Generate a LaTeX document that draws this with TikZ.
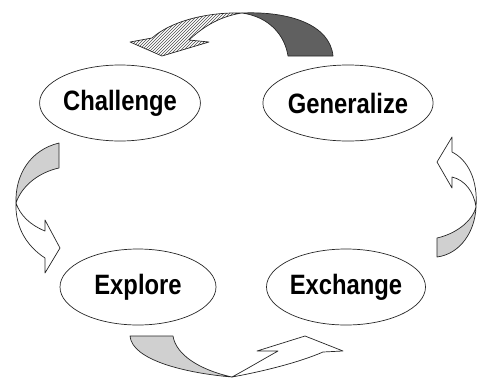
\documentclass[tikz,border=0pt]{standalone}
\usepackage{fontspec}
\setmainfont{Liberation Sans}
\newfontfamily\stagefont[FakeStretch=0.85]{Liberation Sans}
\usetikzlibrary{shapes.geometric,patterns}

\definecolor{bandlight}{HTML}{D0D0D0}
\definecolor{banddark}{HTML}{606060}

\begin{document}
\begin{tikzpicture}[
  x=1pt, y=-1pt,
  stage/.style={draw=black!85, ellipse, line width=0.7pt, minimum width=156pt, minimum height=76pt,
    inner sep=0pt, font=\stagefont\bfseries\fontsize{28}{30}\selectfont},
  band/.style={draw=black!85, line width=0.7pt, line join=round},
  front/.style={band, fill=white},
  back/.style={band, fill=bandlight}
]
\useasboundingbox (0,0) rectangle (478,378);

% the four stages
\node[stage] (challenge) at (120,103) {Challenge};
\node[stage] (generalize) at (348,103) {Generalize};
\node[stage] (explore) at (138,287) {Explore};
\node[stage] (exchange) at (346,287) {Exchange};

% top: generalize -> challenge
\draw[band, fill=banddark] (242,13) .. controls (290,11) and (330,25) .. (333,56) -- (288,56)
  .. controls (285,36) and (270,17) .. (242,13) -- cycle;
\draw[band, pattern=north east lines, pattern color=black!70] (242,13) .. controls (205,12) and (170,22) .. (152,38)
  -- (130,42) -- (162,56) -- (209,42) -- (189,40) .. controls (205,25) and (222,16) .. cycle;

% left: challenge -> explore
\draw[back] (59,143) -- (59,168) .. controls (40,172) and (22,185) .. (16,203)
  .. controls (15,175) and (30,150) .. cycle;
\draw[front] (16,203) .. controls (15,225) and (25,245) .. (45,258) -- (45,273) -- (60,248)
  -- (45,220) -- (45,231) .. controls (30,225) and (20,215) .. cycle;

% bottom: explore -> exchange
\draw[back] (130,336) -- (173,336) .. controls (176,355) and (200,370) .. (232,377)
  .. controls (185,373) and (132,360) .. cycle;
\draw[front] (232,377) .. controls (265,371) and (300,362) .. (323,352) -- (343,351) -- (305,336)
  -- (257,351) -- (278,351) .. controls (262,360) and (245,370) .. cycle;

% right: exchange -> generalize
\draw[back] (437,238) -- (437,257) .. controls (460,254) and (475,232) .. (476,207)
  .. controls (472,222) and (455,234) .. cycle;
\draw[front] (476,207) .. controls (478,180) and (468,160) .. (452,152) -- (452,137) -- (437,162)
  -- (452,188) -- (452,177) .. controls (465,180) and (474,192) .. cycle;
\end{tikzpicture}
\end{document}
